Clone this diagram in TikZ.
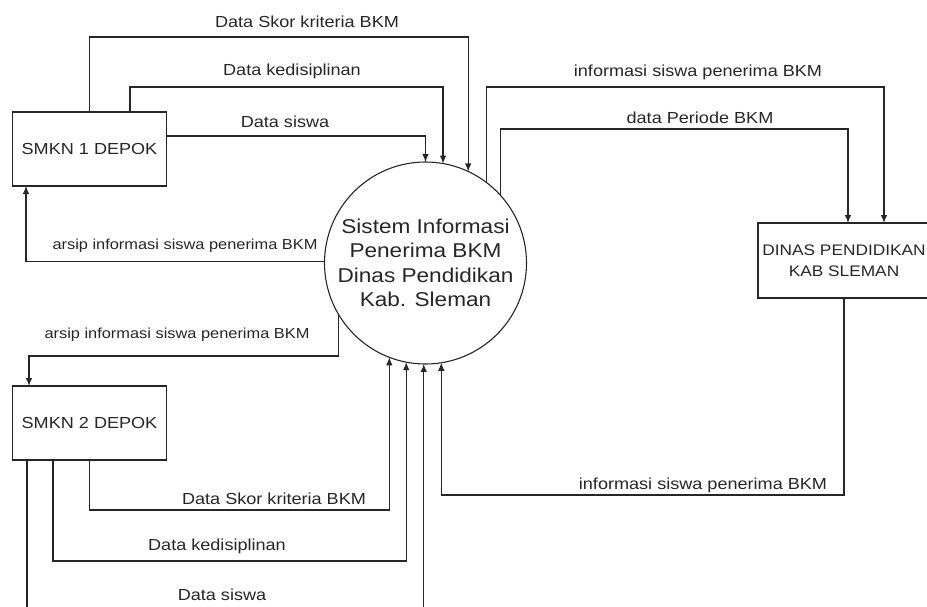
\documentclass[tikz,border=0pt]{standalone}
\usepackage{fontspec}
\setmainfont[FakeStretch=1.13]{Liberation Sans}
\usepackage {tikz}
\usetikzlibrary {positioning}
\usetikzlibrary{arrows.meta}
\tikzset{flow/.style = {->,> = {Latex[length=8pt,width=6.5pt]}}}

\begin{document}
\begin{tikzpicture}[x=1pt,y=-1pt,line width=1.1pt,color=black!85,
    ext node/.style={rectangle,draw,minimum width=154pt,minimum height=74pt,inner sep=0pt,outer sep=0pt,align=center,font=\fontsize{16}{21}\selectfont},
    proc node/.style={circle,draw,minimum size=202pt,inner sep=0pt,outer sep=0pt,align=center,font=\fontsize{20}{24.5}\selectfont},
    flow label/.style={inner sep=0pt,font=\fontsize{16}{19}\selectfont},
    arsip label/.style={inner sep=0pt,font=\fontsize{14.5}{17}\selectfont}]
  \path[use as bounding box,clip] (0,0) rectangle (927,606);

  \node[ext node] (smk1) at (89.5,149) {SMKN 1 DEPOK};
  \node[ext node] (smk2) [below=200pt of smk1] {SMKN 2 DEPOK};
  \node[proc node] (sis) at (425.5,263) {Sistem Informasi\\Penerima BKM\\Dinas Pendidikan\\Kab. Sleman};
  \node[ext node,minimum width=172pt,minimum height=75pt,font=\fontsize{15.3}{21}\selectfont] (dinas) at (844,260.5) {DINAS PENDIDIKAN\\KAB SLEMAN};

  \coordinate (smk1in) at ([xshift=-63.5pt]smk1.south);
  \coordinate (smk2in) at ([xshift=-60.5pt]smk2.north);
  \coordinate (dinas1) at ([xshift=40pt]dinas.north);
  \coordinate (dinas2) at ([xshift=4pt]dinas.north);

  % SMKN 1 DEPOK
  \draw[flow] (smk1.north) |- (sis.65 |- 0,37) -- (sis.65);
  \draw[flow] ([xshift=40.5pt]smk1.north) |- (sis.80 |- 0,87) -- (sis.80);
  \draw[flow] ([yshift=13pt]smk1.east) -| (sis.90);
  \draw[flow] (sis.179) -| (smk1in);
  \node[flow label] (skor1) at (307,22) {Data Skor kriteria BKM};
  \node[flow label] (disiplin1) at (292,71) {Data kedisiplinan};
  \node[flow label] (siswa1) at (285,122) {Data siswa};
  \node[arsip label] (arsip1) at (185,246) {arsip informasi siswa penerima BKM};

  % SMKN 2 DEPOK
  \draw[flow] (sis.211) -- (sis.211 |- 0,356) -| (smk2in);
  \draw[flow] (smk2.south) |- (sis.249 |- 0,510) -- (sis.249);
  \draw[flow] ([xshift=-36.5pt]smk2.south) |- (sis.259 |- 0,561) -- (sis.259);
  \draw[flow] ([xshift=-62.5pt]smk2.south) |- (sis.269 |- 0,625) -- (sis.269);
  \node[arsip label] (arsip2) at (177,335) {arsip informasi siswa penerima BKM};
  \node[flow label] (skor2) at (274,499) {Data Skor kriteria BKM};
  \node[flow label] (disiplin2) at (217,546) {Data kedisiplinan};
  \node[flow label] (siswa2) at (222,595) {Data siswa};

  % DINAS PENDIDIKAN
  \draw[flow] (sis.53) -- (sis.53 |- 0,87) -| (dinas1);
  \draw[flow] (sis.42) -- (sis.42 |- 0,129) -| (dinas2);
  \draw[flow] (dinas.south) |- (sis.279 |- 0,495) -- (sis.279);
  \node[flow label] (info1) at (698,72) {informasi siswa penerima BKM};
  \node[flow label] (periode) at (700,118) {data Periode BKM};
  \node[flow label] (info2) at (703,485) {informasi siswa penerima BKM};
\end{tikzpicture}
\end{document}
